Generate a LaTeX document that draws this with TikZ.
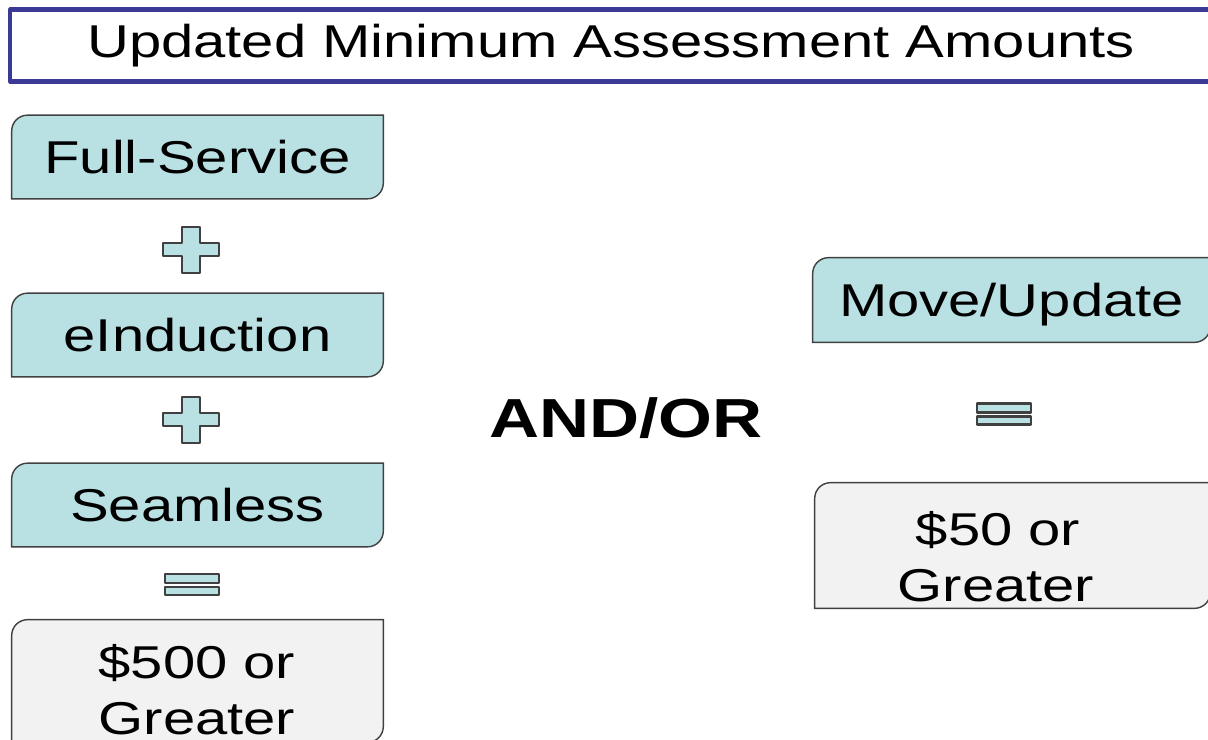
\documentclass[tikz,border=0pt]{standalone}
\usepackage{fontspec}
\usepackage{tikz}
\usetikzlibrary{backgrounds}
\newfontfamily\wide[FakeStretch=1.26]{Liberation Sans}
\definecolor{tealfill}{RGB}{185,224,227}
\definecolor{greyfill}{RGB}{242,242,242}
\definecolor{titleblue}{RGB}{58,58,150}
\definecolor{edgegrey}{RGB}{64,64,64}
\tikzset{
  cell/.style={inner sep=0pt, minimum width=7.42cm, minimum height=1.66cm,
    text height=0.66cm, text depth=0cm, font=\wide\fontsize{26.2}{31}\selectfont},
  wordline/.style={inner sep=0pt, anchor=base, font=\wide\fontsize{26.2}{31}\selectfont},
  frameline/.style={draw=edgegrey, line width=0.8pt},
  plussign/.pic={
    \draw[line width=1.2pt, draw=edgegrey, fill=tealfill] (-9,-23) -- (9,-23) -- (9,-7) -- (28,-7) -- (28,6) -- (9,6)
      -- (9,23) -- (-9,23) -- (-9,6) -- (-28,6) -- (-28,-7) -- (-9,-7) -- cycle;
  },
  equalsign/.pic={
    \draw[line width=1.4pt, draw=edgegrey, fill=tealfill] (-27,-10.5) rectangle (27,-1.5);
    \draw[line width=1.4pt, draw=edgegrey, fill=tealfill] (-27,2.5) rectangle (27,10.5);
  }
}
% frame with the top left and bottom right corners rounded
\newcommand{\tabframe}[2]{%
  \draw[frameline, fill=#2] (#1.south west) -- ([yshift=-9pt]#1.north west)
    arc[start angle=180, end angle=90, radius=9pt] -- (#1.north east)
    -- ([yshift=9pt]#1.south east) arc[start angle=0, end angle=-90, radius=9pt] -- cycle;}

\begin{document}
\begin{tikzpicture}[line cap=round, line join=round, x=0.02cm, y=-0.02cm]
\useasboundingbox (0,0) rectangle (1208,740);
\node[draw=titleblue, line width=2.3pt, inner sep=0pt, minimum width=24.04cm, minimum height=1.44cm,
  text height=0.66cm, text depth=0.16cm, font=\wide\fontsize{26.2}{31}\selectfont] (title) at (611,45.5)
  {Updated Minimum Assessment Amounts};

% left column
\node[cell] (full) at (197.5,157) {Full-Service};
\node[cell] (einduct) at (197.5,335) {eInduction};
\node[cell] (seam) at (197.5,505) {Seamless};
\node[cell, minimum height=2.44cm] (big) at (197.5,681) {};
\node[wordline] (bigtop) at (197,678) {\$500 or};
\node[wordline] (bigbot) at (197,734) {Greater};
\pic at (191,250) {plussign};
\pic at (191,420) {plussign};
\pic at (192,584.5) {equalsign};

% right column
\node[cell, minimum width=7.94cm, minimum height=1.68cm] (move) at (1011.5,300) {Move/Update};
\node[cell, minimum width=7.9cm, minimum height=2.5cm] (small) at (1012.5,545.5) {};
\node[wordline] (smalltop) at (998,545) {\$50 or};
\node[wordline] (smallbot) at (996,601) {Greater};
\pic at (1004,414) {equalsign};

\node[inner sep=0pt, anchor=base, font=\wide\bfseries\fontsize{31.3}{36}\selectfont] (andor) at (626,437) {AND/OR};

\begin{scope}[on background layer]
\tabframe{full}{tealfill}
\tabframe{einduct}{tealfill}
\tabframe{seam}{tealfill}
\tabframe{big}{greyfill}
\tabframe{move}{tealfill}
\tabframe{small}{greyfill}
\end{scope}
\end{tikzpicture}
\end{document}
